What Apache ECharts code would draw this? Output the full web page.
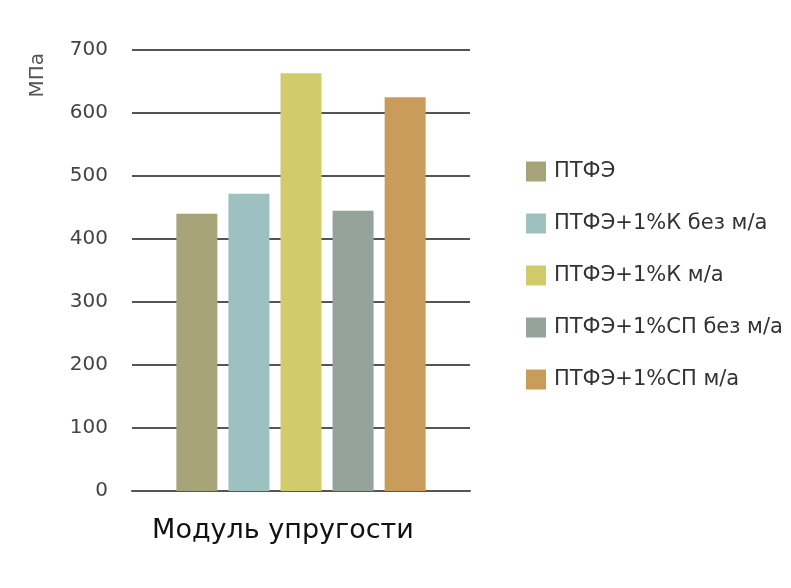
<!DOCTYPE html>
<html>
<head>
<meta charset="utf-8">
<script src="https://cdn.jsdelivr.net/npm/echarts@6/dist/echarts.min.js"></script>
<style>
  html, body { margin: 0; padding: 0; background: #fff; }
  #chart { width: 791px; height: 588px; }
</style>
</head>
<body>
<div id="chart"></div>
<script>
// data
const categories = ['Модуль упругости'];
const seriesNames = ['ПТФЭ', 'ПТФЭ+1%К без м/а', 'ПТФЭ+1%К м/а', 'ПТФЭ+1%СП без м/а', 'ПТФЭ+1%СП м/а'];
const seriesValues = [440, 472, 663, 445, 625];
const colors = ['#a8a47a', '#9dc1c0', '#d2cb6c', '#94a49b', '#c99c5a'];
const yTicks = [0, 100, 200, 300, 400, 500, 600, 700];
const unitLabel = 'МПа';

const myChart = echarts.init(document.getElementById('chart'));

const series = seriesNames.map((name, i) => ({
  name: name,
  type: 'bar',
  barWidth: 41,
  barGap: '27%',
  itemStyle: { color: colors[i] },
  data: [seriesValues[i]]
}));

const option = {
  animation: false,
  grid: { left: 132, right: 321, top: 50, bottom: 97, outerBoundsMode: 'none' },
  // rotated unit caption at the top-left
  graphic: [{
    type: 'text',
    left: 28,
    top: 53,
    rotation: Math.PI / 2,
    style: { text: unitLabel, fontFamily: 'DejaVu Sans', fontSize: 20, fill: '#555' }
  }],
  legend: {
    orient: 'vertical',
    left: 521,
    top: 156,
    itemWidth: 20,
    itemHeight: 20,
    itemGap: 31,
    icon: 'rect',
    textStyle: { fontFamily: 'DejaVu Sans', fontSize: 21, color: '#333', padding: [0, 0, 0, 3] },
    data: seriesNames
  },
  xAxis: {
    type: 'category',
    data: categories,
    axisLine: { lineStyle: { color: '#555', width: 2 } },
    axisTick: { show: false },
    axisLabel: { fontFamily: 'DejaVu Sans', fontSize: 27, color: '#111', margin: 26, padding: [0, 36, 0, 0] }
  },
  yAxis: {
    type: 'value',
    min: yTicks[0],
    max: yTicks[yTicks.length - 1],
    interval: 100,
    axisLine: { show: false },
    axisTick: { show: false },
    axisLabel: { fontFamily: 'DejaVu Sans', fontSize: 20, color: '#444', margin: 24 },
    splitLine: { lineStyle: { color: '#555', width: 2 } }
  },
  series: series
};

myChart.setOption(option);
</script>
</body>
</html>
